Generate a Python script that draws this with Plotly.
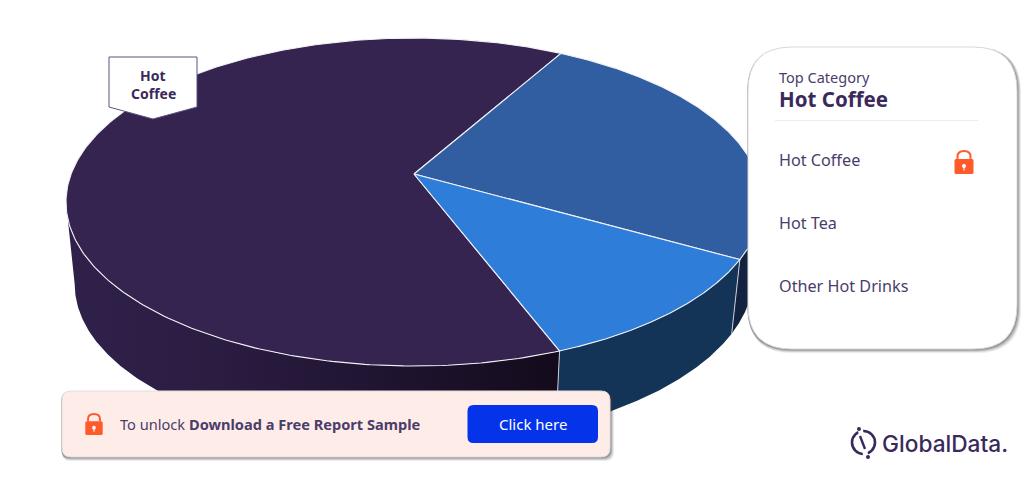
import numpy as np
import plotly.graph_objects as go

# ---- data ----
categories = ["Hot Coffee", "Hot Tea", "Other Hot Drinks"]
shares = [64, 25, 11]
start_angle = 159.1  # clockwise from the far point, where Hot Coffee begins
top_colors = ["#352350", "#305EA0", "#2D7DD9"]
side_colors = [None, "#13233F", "#133457"]
title_small = "Top Category"
title_big = "Hot Coffee"

# ---- projection of the tilted disc onto the page ----
CX, CY = 414.0, 174.0
A, B, K = 342.9, 159.2, 0.1708
SHRINK = 0.975
INK = "#3A2A5C"
ORANGE = "#FF5A2C"
FONT = "Noto Sans, Open Sans, sans-serif"
RIM = "#F1F1F6"
# the wall is only seen between the two outermost points of the rim
VIS_LO = np.degrees(np.arccos(-K))
VIS_HI = 360 - VIS_LO


def top(theta):
    t = np.radians(theta)
    u, v = np.sin(t), np.cos(t)
    w = 1 + K * v
    return CX + A * u / w, CY - B * v / w


def bottom(theta):
    x, y = top(theta)
    return CX + SHRINK * (x - CX), y + 78 - 0.012 * (x - CX)


fig = go.Figure()
edges = start_angle + np.concatenate([[0], np.cumsum(shares)]) * 3.6

# sides first, tops painted over them
for i, cat in enumerate(categories):
    lo, hi = edges[i], edges[i + 1]
    lo_v, hi_v = max(lo, VIS_LO), min(hi, VIS_HI)
    if lo_v >= hi_v:  # slice lies past the far point, so unwrap it
        lo_v, hi_v = max(lo - 360, VIS_LO), min(hi - 360, VIS_HI)
    if lo_v >= hi_v:
        continue
    th = np.linspace(lo_v, hi_v, 200)
    xt, yt = top(th)
    xb, yb = bottom(th)
    kw = dict(fillcolor=side_colors[i]) if side_colors[i] else dict(
        fillgradient=dict(
            type="horizontal", start=66, stop=558,
            colorscale=[[0, "#30214B"], [0.3, "#2B1C42"], [0.65, "#1F1430"], [1, "#130B1C"]],
        )
    )
    fig.add_trace(go.Scatter(
        x=np.r_[xt, xb[::-1]], y=np.r_[yt, yb[::-1]], mode="lines", fill="toself",
        line=dict(width=0), name=cat, hoverinfo="skip", showlegend=False, **kw))

for e in edges[:-1]:
    xt, yt = top(e)
    xb, yb = bottom(e)
    fig.add_trace(go.Scatter(x=[xt, xb], y=[yt, yb], mode="lines",
                             line=dict(color="#C9CBD6", width=1),
                             hoverinfo="skip", showlegend=False))

for i, cat in enumerate(categories):
    th = np.linspace(edges[i], edges[i + 1], 300)
    xt, yt = top(th)
    fig.add_trace(go.Scatter(
        x=np.r_[CX, xt, CX], y=np.r_[CY, yt, CY], mode="lines", fill="toself",
        fillcolor=top_colors[i], line=dict(color=RIM, width=1.1),
        name=cat, text=f"{cat}", hoverinfo="text", showlegend=False))


# ---- page furniture ----
def rrect(x0, y0, x1, y1, r):
    return (f"M{x0 + r},{y0} L{x1 - r},{y0} Q{x1},{y0} {x1},{y0 + r} L{x1},{y1 - r} "
            f"Q{x1},{y1} {x1 - r},{y1} L{x0 + r},{y1} Q{x0},{y1} {x0},{y1 - r} "
            f"L{x0},{y0 + r} Q{x0},{y0} {x0 + r},{y0} Z")


shapes = []


def panel(x0, y0, x1, y1, r, fill, border):
    for off, alpha in ((4, 0.10), (3, 0.16), (2, 0.22), (1, 0.25)):
        shapes.append(dict(type="path", path=rrect(x0 - 1 + off * 0.2, y0 + off * 0.2, x1 + off, y1 + off, r),
                           fillcolor=f"rgba(60,60,60,{alpha})", line=dict(width=0)))
    shapes.append(dict(type="path", path=rrect(x0, y0, x1, y1, r), fillcolor=fill,
                       line=dict(color=border, width=1)))


def lock(cx, ytop, h):
    s = h / 24
    body_top = ytop + 9 * s
    shapes.append(dict(type="path",
                       path=f"M{cx - 6.5 * s},{body_top} L{cx - 6.5 * s},{ytop + 6.5 * s} "
                            f"Q{cx - 6.5 * s},{ytop + 1 * s} {cx},{ytop + 1 * s} "
                            f"Q{cx + 6.5 * s},{ytop + 1 * s} {cx + 6.5 * s},{ytop + 6.5 * s} "
                            f"L{cx + 6.5 * s},{body_top}",
                       line=dict(color=ORANGE, width=2)))
    shapes.append(dict(type="path", path=rrect(cx - 9.5 * s, body_top, cx + 9.5 * s, ytop + h, 1.5),
                       fillcolor=ORANGE, line=dict(width=0)))
    shapes.append(dict(type="circle", x0=cx - 2 * s, x1=cx + 2 * s, y0=ytop + 14 * s, y1=ytop + 18 * s,
                       fillcolor="white", line=dict(width=0)))
    shapes.append(dict(type="line", x0=cx, x1=cx, y0=ytop + 16 * s, y1=ytop + 20.5 * s,
                       line=dict(color="white", width=1)))


# legend card
panel(748, 47, 1017, 349, 44, "white", "#D9D9DE")
shapes.append(dict(type="line", x0=775, x1=978, y0=120.5, y1=120.5, line=dict(color="#ECECF0", width=1)))
lock(964, 150, 24)

# flag label
shapes.append(dict(type="path", path="M109,57 L197,57 L197,107 L153,119 L109,107 Z",
                   fillcolor="white", line=dict(color="#5D5180", width=1)))

# banner
panel(62, 391, 610, 457, 9, "#FEECE8", "#E5DCDC")
lock(94, 413, 22)
shapes.append(dict(type="path", path=rrect(467.5, 405, 598, 443, 6), fillcolor="#0433EA", line=dict(width=0)))

# logo mark
shapes.append(dict(type="circle", x0=852, x1=875, y0=431, y1=454, line=dict(color=INK, width=2.6)))
shapes.append(dict(type="line", x0=860, x1=866, y0=428, y1=457, line=dict(color="white", width=5)))
shapes.append(dict(type="line", x0=860, x1=865, y0=436, y1=449, line=dict(color=INK, width=2.4)))
shapes.append(dict(type="circle", x0=857, x1=861, y0=427, y1=431, fillcolor=INK, line=dict(width=0)))
shapes.append(dict(type="circle", x0=866, x1=870, y0=455, y1=459, fillcolor=INK, line=dict(width=0)))


def note(x, y, text, size, color=INK, anchor="left", family=FONT, weight=None):
    f = dict(family=family, size=size, color=color)
    if weight:
        f["weight"] = weight
    return dict(x=x, y=y, text=text, showarrow=False, xanchor=anchor, yanchor="middle",
                font=f, xref="x", yref="y", align=anchor)


annotations = [
    note(777, 77, title_small, 14.5, "#4A3D6B"),
    note(777, 99, f"<b>{title_big}</b>", 20.5),
    note(153, 75, f"<b>{categories[0].split()[0]}</b>", 14, anchor="center"),
    note(153, 93.5, f"<b>{categories[0].split()[1]}</b>", 14, anchor="center"),
    note(118, 424, "To unlock <b>Download a Free Report Sample</b>", 14.6, "#4A3D6B"),
    note(533, 424, "Click here", 15, "white", "center"),
    note(879.5, 443, "GlobalData.", 22.7, family="Inter, Noto Sans, sans-serif", weight=500),
]
for cat, y in zip(categories, [160, 223, 286]):
    annotations.append(note(777, y, cat, 16.2, "#4A3D6B"))

fig.update_layout(
    width=1024, height=493, margin=dict(l=0, r=0, t=0, b=0),
    paper_bgcolor="white", plot_bgcolor="white", showlegend=False,
    xaxis=dict(range=[0, 1024], visible=False, fixedrange=True),
    yaxis=dict(range=[493, 0], visible=False, fixedrange=True),
    shapes=[dict(s, xref="x", yref="y", layer="above") for s in shapes],
    annotations=annotations,
)
fig.write_html("out.html", config=dict(displayModeBar=False),
               post_script="document.body.style.margin='0';")
